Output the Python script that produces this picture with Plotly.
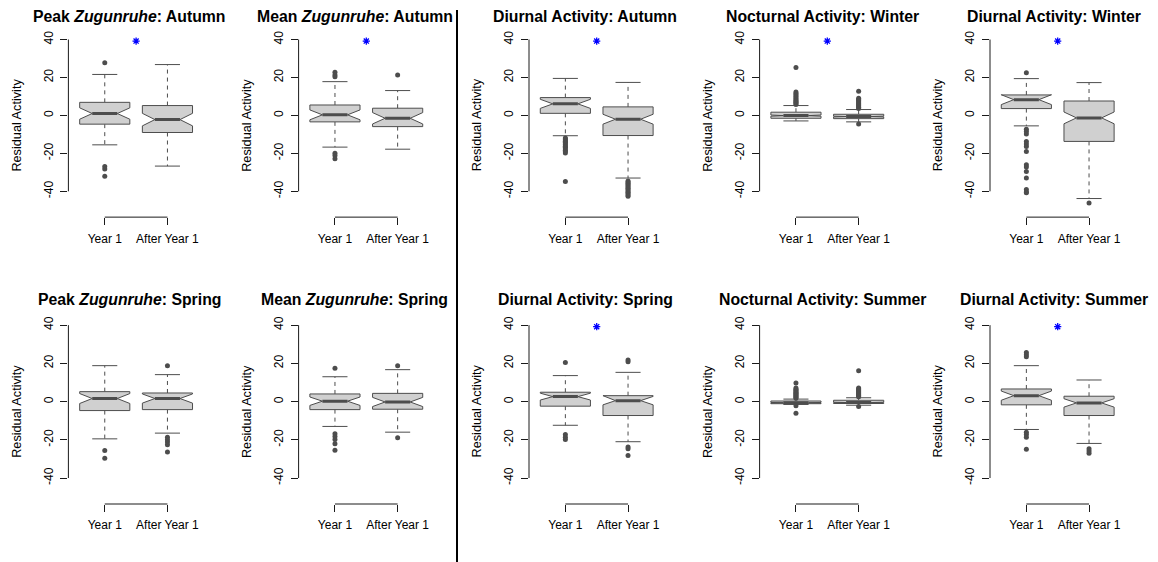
import plotly.graph_objects as go

# ---------------- data ----------------
PANEL_TITLES = [
    "<b>Peak <i>Zugunruhe</i>: Autumn</b>",
    "<b>Mean <i>Zugunruhe</i>: Autumn</b>",
    "<b>Diurnal Activity: Autumn</b>",
    "<b>Nocturnal Activity: Winter</b>",
    "<b>Diurnal Activity: Winter</b>",
    "<b>Peak <i>Zugunruhe</i>: Spring</b>",
    "<b>Mean <i>Zugunruhe</i>: Spring</b>",
    "<b>Diurnal Activity: Spring</b>",
    "<b>Nocturnal Activity: Summer</b>",
    "<b>Diurnal Activity: Summer</b>",
]
GROUPS = ["Year 1", "After Year 1"]
Y_TICKS = [-40, -20, 0, 20, 40]
Y_LABEL = "Residual Activity"

# Year 1 box statistics (per panel)
Y1_LOWER = [-15.5, -16.7, -10.7, -2.9, -5.5, -19.5, -13.0, -12.4, -1.5, -14.6]
Y1_Q1 = [-4.6, -3.4, 1.1, -1.5, 3.6, -4.7, -4.2, -2.4, -1.1, -1.7]
Y1_MED = [1.0, 0.3, 6.1, -0.1, 8.3, 1.6, 0.2, 2.6, -0.6, 3.1]
Y1_Q3 = [6.9, 5.5, 9.4, 1.7, 10.8, 5.2, 4.0, 4.9, 0.3, 6.6]
Y1_UPPER = [21.6, 17.8, 19.5, 5.2, 19.4, 18.8, 13.0, 13.6, 1.3, 18.8]
Y1_NOTCH = [3.0, 2.6, 2.4, 0.3, 2.6, 2.6, 2.2, 1.8, 0.15, 2.4]
Y1_OUTLIERS = [
    [27.8, -26.9, -28.3, -32.1],
    [22.7, 21.3, 20.4, -19.9, -21.1, -22.8],
    [-11.9, -12.4, -13.0, -13.6, -14.1, -14.9, -15.5, -16.2, -16.8, -17.5, -18.3, -19.0, -19.8, -34.8],
    [5.8, 6.3, 6.9, 7.4, 8.0, 8.6, 9.3, 10.1, 10.9, 11.6, 12.3, 25.3],
    [22.5, -7.3, -8.5, -9.8, -13.7, -15.0, -16.4, -19.0, -26.0, -27.2, -29.5, -33.0, -39.1, -40.3, -40.8],
    [-25.6, -29.6],
    [17.4, -16.8, -18.3, -19.9, -22.1, -25.5],
    [20.5, -17.2, -18.6, -19.8],
    [1.8, 2.3, 2.8, 3.3, 3.8, 4.3, 4.8, 5.3, 5.9, 6.5, 7.1, 9.7, -2.2, -6.1],
    [25.7, 24.5, 23.5, -16.0, -17.2, -18.6, -24.9],
]

# After Year 1 box statistics (per panel)
AY_LOWER = [-26.7, -17.8, -33.0, -3.4, -43.8, -16.5, -16.0, -21.0, -1.9, -21.9]
AY_Q1 = [-9.0, -5.9, -10.6, -1.7, -13.7, -4.2, -4.0, -7.3, -1.0, -7.3]
AY_MED = [-2.2, -1.5, -2.0, -0.6, -1.3, 1.6, -0.2, 0.5, -0.5, -0.7]
AY_Q3 = [5.2, 3.8, 4.5, 0.6, 7.6, 4.5, 4.3, 3.1, 0.7, 2.8]
AY_UPPER = [26.8, 13.1, 17.4, 3.1, 17.3, 14.1, 16.7, 15.3, 2.0, 11.3]
AY_NOTCH = [3.3, 3.0, 2.6, 0.2, 3.1, 2.4, 2.4, 2.2, 0.15, 2.2]
AY_OUTLIERS = [
    [],
    [21.3],
    [-34.5, -35.1, -35.8, -36.4, -37.0, -37.7, -38.4, -39.0, -39.8, -40.5, -41.2, -41.9, -42.6],
    [3.7, 4.3, 4.9, 5.5, 6.0, 6.6, 7.2, 7.8, 8.4, 9.0, 12.7, -4.5],
    [-46.1],
    [18.8, -18.6, -20.0, -21.2, -22.6, -26.4],
    [18.8, -18.9],
    [21.7, 20.8, -23.8, -24.7, -28.2],
    [2.5, 3.0, 3.5, 4.0, 4.5, 5.0, 5.5, 6.0, 6.6, 7.1, 16.2, -2.6],
    [-24.7, -25.9, -27.0],
]

SIGNIFICANT = [True, True, True, True, True, False, False, True, False, True]
STAR_Y = 39.2

# ---------------- style / layout ----------------
W, H = 1158, 562
FONT = "Liberation Sans, Arial, Helvetica, sans-serif"
BOX_FILL = "#D0D0D0"
BOX_LINE = "#4D4D4D"
AXIS_COL = "#1a1a1a"
HALF = 0.4          # half box width (boxwex 0.8)
X_RANGE = [0.42, 2.58]
Y_RANGE = [-53.6, 43.6]

COL_LEFT = [68.4, 298.6, 529.0, 759.6, 990.0]
PANEL_W = 135.4
ROW_TB = [(30.8, 215.9), (317.4, 503.8)]
TITLE_X = [129.0, 354.6, 585.0, 822.3, 1054.2]
TITLE_Y = [15.0, 298.5]


def px_x(v):
    return v / W


def px_y(v):
    return 1 - v / H


fig = go.Figure()
layout_axes = {}
annotations = []
shapes = []

for k in range(10):
    r, c = divmod(k, 5)
    idx = "" if k == 0 else str(k + 1)
    xa, ya = "x" + idx, "y" + idx
    left = COL_LEFT[c]
    top, bot = ROW_TB[r]

    layout_axes["xaxis" + idx] = dict(
        domain=[px_x(left), px_x(left + PANEL_W)], range=X_RANGE, anchor=ya,
        tickvals=[1, 2], ticktext=GROUPS, ticks="outside", ticklen=7, tickwidth=1,
        tickcolor=AXIS_COL, showline=False, showgrid=False, zeroline=False,
        ticklabelstandoff=3,
        tickfont=dict(size=12, color="black", family=FONT), fixedrange=True,
    )
    layout_axes["yaxis" + idx] = dict(
        domain=[px_y(bot), px_y(top)], range=Y_RANGE, anchor=xa,
        tickvals=Y_TICKS, ticktext=[str(t) for t in Y_TICKS], tickangle=-90,
        ticks="outside", ticklen=7, tickwidth=1, tickcolor=AXIS_COL,
        showline=False, showgrid=False, zeroline=False,
        ticklabelstandoff=3,
        tickfont=dict(size=12, color="black", family=FONT), fixedrange=True,
    )

    # y axis line spanning the tick range
    shapes.append(dict(type="line", xref=xa + " domain", x0=0, x1=0, yref=ya,
                       y0=min(Y_TICKS), y1=max(Y_TICKS),
                       line=dict(color=AXIS_COL, width=1)))
    # x axis bracket between the two groups
    shapes.append(dict(type="line", xref=xa, x0=1, x1=len(GROUPS), yref=ya + " domain",
                       y0=0, y1=0, line=dict(color=AXIS_COL, width=1)))

    annotations.append(dict(text=PANEL_TITLES[k], x=px_x(TITLE_X[c]), y=px_y(TITLE_Y[r]),
                            xref="paper", yref="paper", showarrow=False,
                            xanchor="center", yanchor="middle",
                            font=dict(size=15.8, color="black", family=FONT)))
    annotations.append(dict(text=Y_LABEL, x=px_x(left - 51.7), y=px_y((top + bot) / 2),
                            xref="paper", yref="paper", showarrow=False, textangle=-90,
                            xanchor="center", yanchor="middle",
                            font=dict(size=12.7, color="black", family=FONT)))

    stats = [
        (Y1_LOWER[k], Y1_Q1[k], Y1_MED[k], Y1_Q3[k], Y1_UPPER[k], Y1_NOTCH[k], Y1_OUTLIERS[k]),
        (AY_LOWER[k], AY_Q1[k], AY_MED[k], AY_Q3[k], AY_UPPER[k], AY_NOTCH[k], AY_OUTLIERS[k]),
    ]
    for g, (lo, q1, med, q3, hi, nt, outs) in enumerate(stats, start=1):
        # dashed whiskers
        fig.add_trace(go.Scatter(x=[g, g, None, g, g], y=[q3, hi, None, q1, lo],
                                 mode="lines", line=dict(color=BOX_LINE, width=1, dash="4px,4px"),
                                 xaxis=xa, yaxis=ya, hoverinfo="skip", showlegend=False))
        # staples
        fig.add_trace(go.Scatter(x=[g - HALF / 2, g + HALF / 2, None, g - HALF / 2, g + HALF / 2],
                                 y=[hi, hi, None, lo, lo], mode="lines",
                                 line=dict(color=BOX_LINE, width=1),
                                 xaxis=xa, yaxis=ya, hoverinfo="skip", showlegend=False))
        # notched box
        bx = [g - HALF, g - HALF, g - HALF / 2, g - HALF, g - HALF,
              g + HALF, g + HALF, g + HALF / 2, g + HALF, g + HALF, g - HALF]
        by = [q1, med - nt, med, med + nt, q3, q3, med + nt, med, med - nt, q1, q1]
        fig.add_trace(go.Scatter(x=bx, y=by, mode="lines", fill="toself", fillcolor=BOX_FILL,
                                 line=dict(color=BOX_LINE, width=1),
                                 xaxis=xa, yaxis=ya, hoverinfo="skip", showlegend=False))
        # median
        fig.add_trace(go.Scatter(x=[g - HALF / 2, g + HALF / 2], y=[med, med], mode="lines",
                                 line=dict(color=BOX_LINE, width=3),
                                 xaxis=xa, yaxis=ya, hoverinfo="skip", showlegend=False))
        # outliers
        if outs:
            fig.add_trace(go.Scatter(x=[g] * len(outs), y=outs, mode="markers",
                                     marker=dict(color=BOX_LINE, size=5, line=dict(width=0)),
                                     cliponaxis=False,
                                     xaxis=xa, yaxis=ya, hoverinfo="skip", showlegend=False))
    if SIGNIFICANT[k]:
        fig.add_trace(go.Scatter(x=[1.5], y=[STAR_Y], mode="markers",
                                 marker=dict(symbol="asterisk-open", size=6, color="blue",
                                             line=dict(color="blue", width=1.3)),
                                 cliponaxis=False,
                                 xaxis=xa, yaxis=ya, hoverinfo="skip", showlegend=False))

# vertical divider between the two blocks of panels
shapes.append(dict(type="line", xref="paper", yref="paper", x0=px_x(457), x1=px_x(457),
                   y0=0, y1=px_y(8), line=dict(color="black", width=2)))

fig.update_layout(
    width=W, height=H, margin=dict(l=0, r=0, t=0, b=0),
    paper_bgcolor="white", plot_bgcolor="white",
    font=dict(family=FONT, color="black"),
    showlegend=False, annotations=annotations, shapes=shapes,
    **layout_axes,
)

fig.write_html("out.html")
